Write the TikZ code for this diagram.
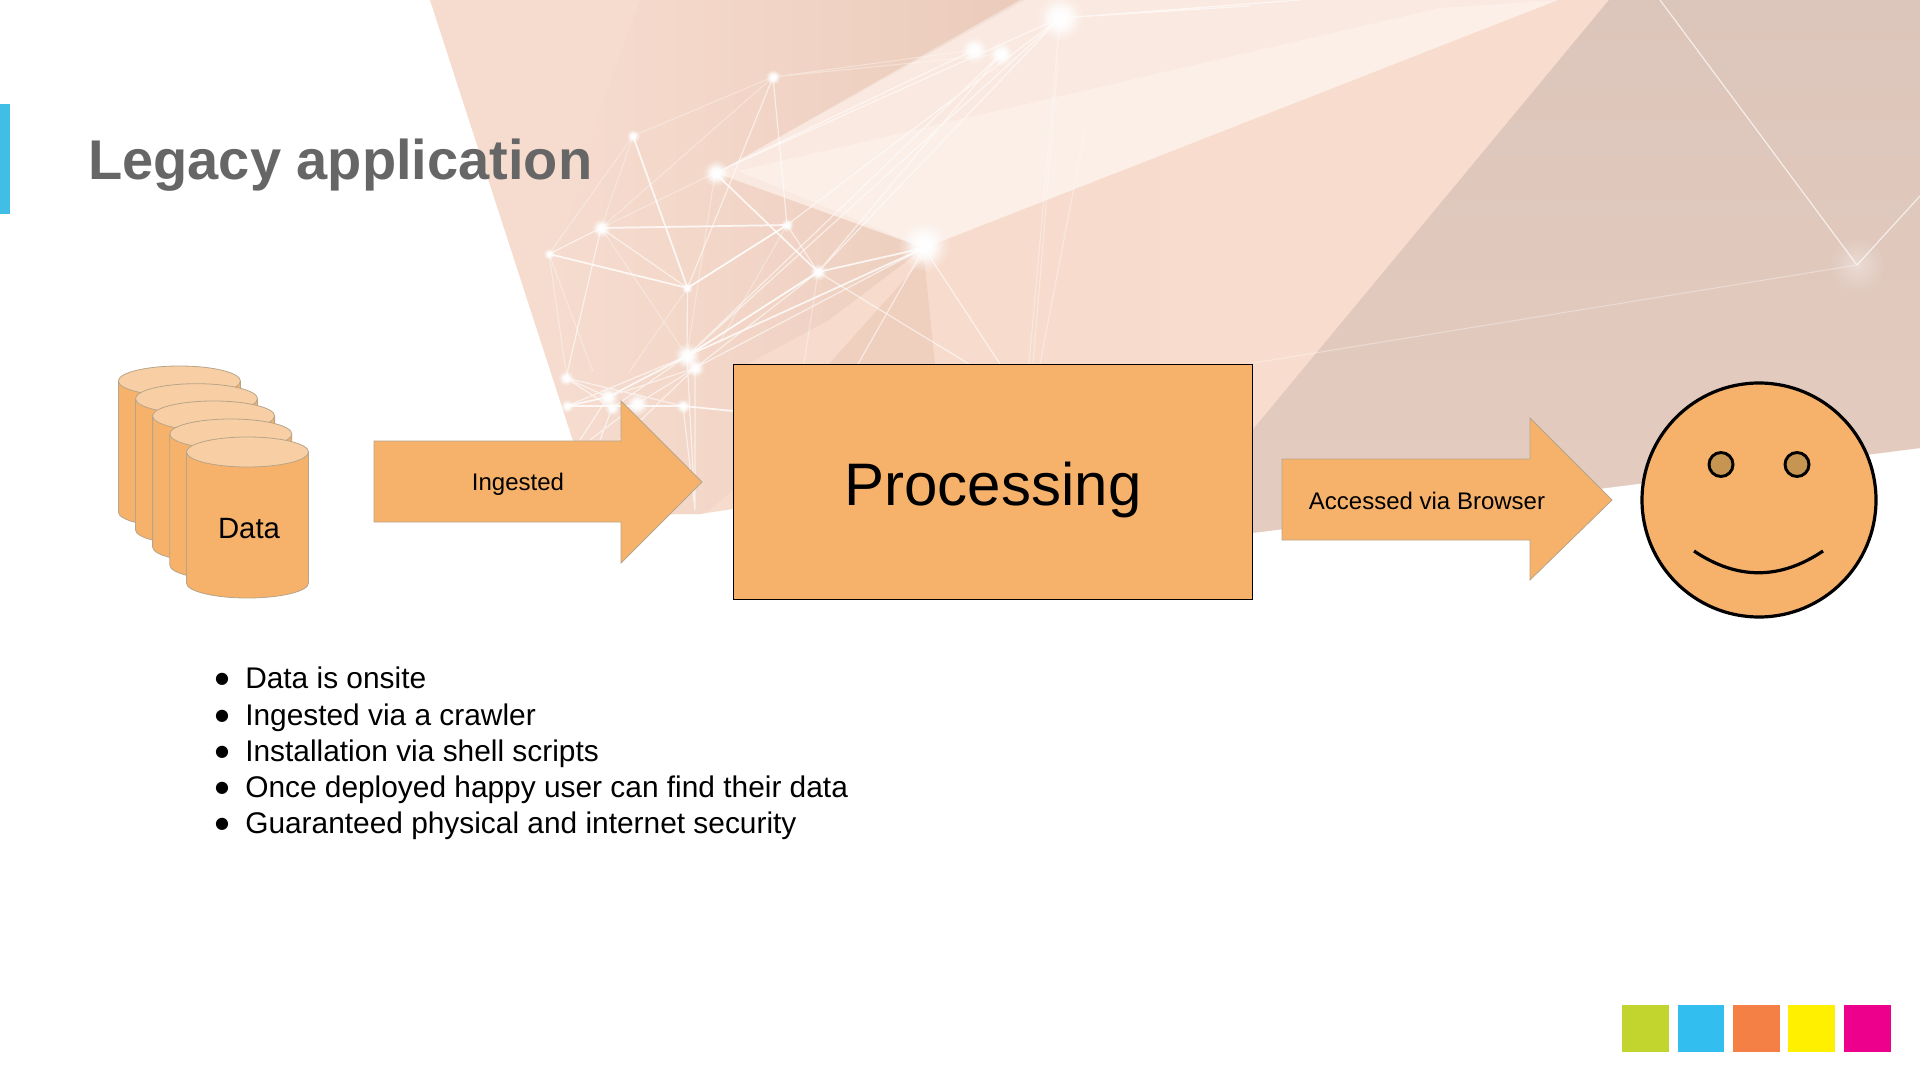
\documentclass[tikz,border=0pt]{standalone}
\usepackage{fontspec}
\setmainfont{Liberation Sans}
\newfontfamily\dejavu{DejaVu Sans}
\usetikzlibrary{fadings}
\tikzfading[name=softglow,inner color=transparent!0,outer color=transparent!100]
\tikzfading[name=leftsoft,left color=transparent!100,right color=transparent!0]
\definecolor{fillor}{HTML}{F6B26B}
\definecolor{capor}{HTML}{F8CFA5}
\definecolor{edgeor}{HTML}{B8A488}
\definecolor{titlegray}{HTML}{666666}
\definecolor{barblue}{HTML}{40BEE6}
\definecolor{bgleft}{HTML}{F6DCCF}
\definecolor{bgright}{HTML}{F9DCCC}
\definecolor{bgdark}{HTML}{EBCCBC}
\definecolor{bgtri}{HTML}{EFCFBE}
\definecolor{greytop}{HTML}{DCC5BA}
\definecolor{greybot}{HTML}{E5CCC1}
\definecolor{eyefill}{HTML}{C79552}
\definecolor{sqa}{HTML}{C2D52F}
\definecolor{sqb}{HTML}{33BEF0}
\definecolor{sqc}{HTML}{F58045}
\definecolor{sqd}{HTML}{FFF000}
\definecolor{sqe}{HTML}{EC008C}
\tikzset{
  net/.style={white,opacity=0.6,line width=0.9pt},
  netb/.style={white,opacity=0.8,line width=1.3pt},
  netf/.style={white,opacity=0.35,line width=0.8pt},
  arrowshape/.style={fill=fillor,draw=edgeor,line width=0.6pt},
  cylside/.style={fill=fillor,draw=edgeor,line width=0.6pt},
  cylcap/.style={fill=capor,draw=edgeor,line width=0.6pt},
  colorsq/.style={minimum size=46.5*0.75pt,inner sep=0pt,anchor=north west},
  bullettext/.style={anchor=base west,inner sep=0pt,font=\fontsize{22.4pt}{26pt}\selectfont},
  bulletdot/.style={anchor=base,inner sep=0pt,font=\dejavu\fontsize{12pt}{14pt}\selectfont},
  smileline/.style={draw=black,line width=2.4pt},
}
\newcommand{\glow}[2]{\fill[white,path fading=softglow] (#1) circle (#2);\fill[white,path fading=softglow] (#1) circle ({0.75*#2});\fill[white,path fading=softglow] (#1) circle ({0.55*#2});}
\begin{document}
\begin{tikzpicture}[x=0.75pt,y=-0.75pt]
\useasboundingbox (0,0) rectangle (1920,1080);
\fill[white] (0,0) rectangle (1920,1080);
% background
\begin{scope}
\clip (430,0) -- (597,515) -- (700,514) -- (733,509) -- (760,505) -- (760,600) -- (1252,533) -- (1920,448) -- (1920,0) -- cycle;
\shade[left color=bgleft,right color=bgright] (400,0) rectangle (1920,600);
\fill[bgdark,path fading=leftsoft] (1025,0) -- (716,173) -- (924,248) -- (829,320) -- (733,372) -- (733,490) -- (703,515) -- (590,515) -- (560,250) -- (600,110) -- (640,0) -- cycle;
\fill[bgtri] (924,258) -- (829,364) -- (935,364) -- cycle;
\shade[top color=greytop,bottom color=greybot] (1609,0) -- (1920,0) -- (1920,560) -- (1200,560) -- (1250,433) -- cycle;
\fill[white,opacity=0.38] (716,173) -- (924,248) -- (1558,0) -- (1020,0) -- cycle;
\fill[white,opacity=0.28] (738,171) -- (924,248) -- (1558,0) -- (1440,8) -- cycle;
\end{scope}
% network
\coordinate (A) at (773,77);
\coordinate (B) at (633,136);
\coordinate (C) at (715,173);
\coordinate (D) at (601,228);
\coordinate (E) at (787,225);
\coordinate (F) at (549,254);
\coordinate (G) at (687.5,288);
\coordinate (H) at (818,272);
\coordinate (I) at (924,248);
\coordinate (J) at (1060,18);
\coordinate (K) at (974,50);
\coordinate (L) at (1001,54);
\coordinate (M) at (687,356);
\coordinate (N) at (695,368);
\coordinate (O) at (566,378);
\coordinate (P) at (608,397);
\coordinate (Q) at (637,404);
\coordinate (R) at (683,406);
\coordinate (S) at (567,406);
\coordinate (T) at (612,408);
\coordinate (U) at (695,510);
\coordinate (V) at (733,411);
\coordinate (W) at (1857,265);
\coordinate (X) at (1660,0);
\coordinate (Y) at (1920,196);
\coordinate (Z) at (1253,363);
\draw[netf] (A)--(L) (A)--(K) (A)--(B) (A)--(D) (B)--(F) (B)--(D) (C)--(D) (C)--(M) (D)--(M) (E)--(719,343) (F)--(593,372) (F)--(566,372) (G)--(629,372) (H)--(804,364) (J)--(1029,364) (1058,60)--(1033,364) (1085,130)--(1040,364);
\draw[net] (A)--(G) (A)--(E) (E)--(G) (D)--(F) (D)--(G) (E)--(H) (I)--(1000,364) (I)--(858,364) (H)--(969,364) (G)--(M) (D)--(O);
\draw[net] (C)--(K) (C)--(J) (E)--(J) (H)--(J) (H)--(L) (M)--(J) (M)--(L) (M)--(H);
\draw[netb] (D)--(E) (H)--(I) (H)--(M) (I)--(M) (B)--(G) (C)--(H) (F)--(G) (G)--(E) (M)--(P) (P)--(S) (S)--(R) (R)--(V);
\draw[net] (O)--(P) (O)--(T) (O)--(R) (M)--(S) (M)--(T) (M)--(N) (N)--(U) (M)--(U) (N)--(Q) (N)--(P) (P)--(580,440) (T)--(600,440) (Q)--(590,440) (N)--(H) (N)--(I) (R)--(U) (N)--(620,440) (J)--(1250,6) (J)--(1300,0);
\draw[net,opacity=0.7] (W)--(X) (W)--(Y);
\draw[netf] (W)--(Z);
\glow{1060,18}{24}
\glow{974,50}{14}
\glow{1001,54}{13}
\glow{924,246}{26}
\glow{716,173}{14}
\glow{773,77}{8}
\glow{633,136}{7}
\glow{601,228}{10}
\glow{787,225}{7}
\glow{549,254}{6}
\glow{687,288}{6}
\glow{818,272}{9}
\glow{687,356}{14}
\glow{695,368}{10}
\glow{566,378}{8}
\glow{608,397}{11}
\glow{637,404}{12}
\glow{683,406}{8}
\glow{567,406}{7}
\glow{612,408}{8}
\fill[white,opacity=0.35,path fading=softglow] (W) circle (28);
% bar and title
\fill[barblue] (0,104) rectangle (10,214);
\node[anchor=base west,inner sep=0pt,text=titlegray,font=\bfseries\fontsize{42pt}{50pt}\selectfont] (title) at (88,180) {Legacy application};
% cylinders
\foreach \cx/\ty in {179.4/366,196.5/383.7,213.6/401,230.8/419,247.5/437}{
  \begin{scope}[shift={(0,\ty)}]
    \path[cylside] (\cx-61,15) -- (\cx-61,146) arc[x radius=61,y radius=15,start angle=180,end angle=0] -- (\cx+61,15) -- cycle;
    \path[cylcap] (\cx,15) ellipse[x radius=61,y radius=15];
  \end{scope}
}
\node[inner sep=0pt,font=\fontsize{22pt}{26pt}\selectfont] (data) at (249,529) {Data};
% arrows
\path[arrowshape] (374,441) -- (621,441) -- (621,401) -- (702,482) -- (621,563) -- (621,522) -- (374,522) -- cycle;
\node[inner sep=0pt,font=\fontsize{18pt}{22pt}\selectfont] (ingested) at (518,484) {Ingested};
\path[arrowshape] (1282,459) -- (1530,459) -- (1530,418) -- (1612,500) -- (1530,580) -- (1530,540) -- (1282,540) -- cycle;
\node[inner sep=0pt,font=\fontsize{18pt}{22pt}\selectfont] (browser) at (1427,501) {Accessed via Browser};
% processing
\node[draw=black,fill=fillor,line width=0.75pt,minimum width=519.5*0.75pt,minimum height=235*0.75pt,anchor=north west,inner sep=0pt] (proc) at (732.5,364) {};
\node[anchor=base,inner sep=0pt,font=\fontsize{45pt}{50pt}\selectfont] (proclabel) at (993,505) {Processing};
% smiley
\node[circle,draw=black,fill=fillor,line width=2.4pt,minimum size=234*0.75pt,inner sep=0pt] (face) at (1759,500) {};
\node[circle,draw=black,fill=eyefill,line width=2.2pt,minimum size=24*0.75pt,inner sep=0pt] (eyeL) at (1721,464.5) {};
\node[circle,draw=black,fill=eyefill,line width=2.2pt,minimum size=24*0.75pt,inner sep=0pt] (eyeR) at (1797,464.5) {};
\draw[smileline] (1694,551) .. controls (1737,580) and (1780,580) .. (1823,551);
% bullets
\foreach \yy/\lbl [count=\n] in {688/Data is onsite,725/Ingested via a crawler,761/Installation via shell scripts,797/Once deployed happy user can find their data,833/Guaranteed physical and internet security}{
  \node[bulletdot] (b\n) at (222,\yy-5) {●};
  \node[bullettext] (t\n) at (245,\yy) {\lbl};
}
% colour squares
\node[colorsq,fill=sqa] (s1) at (1622,1005) {};
\node[colorsq,fill=sqb] (s2) at (1677.5,1005) {};
\node[colorsq,fill=sqc] (s3) at (1733,1005) {};
\node[colorsq,fill=sqd] (s4) at (1788,1005) {};
\node[colorsq,fill=sqe] (s5) at (1844,1005) {};
\end{tikzpicture}
\end{document}
